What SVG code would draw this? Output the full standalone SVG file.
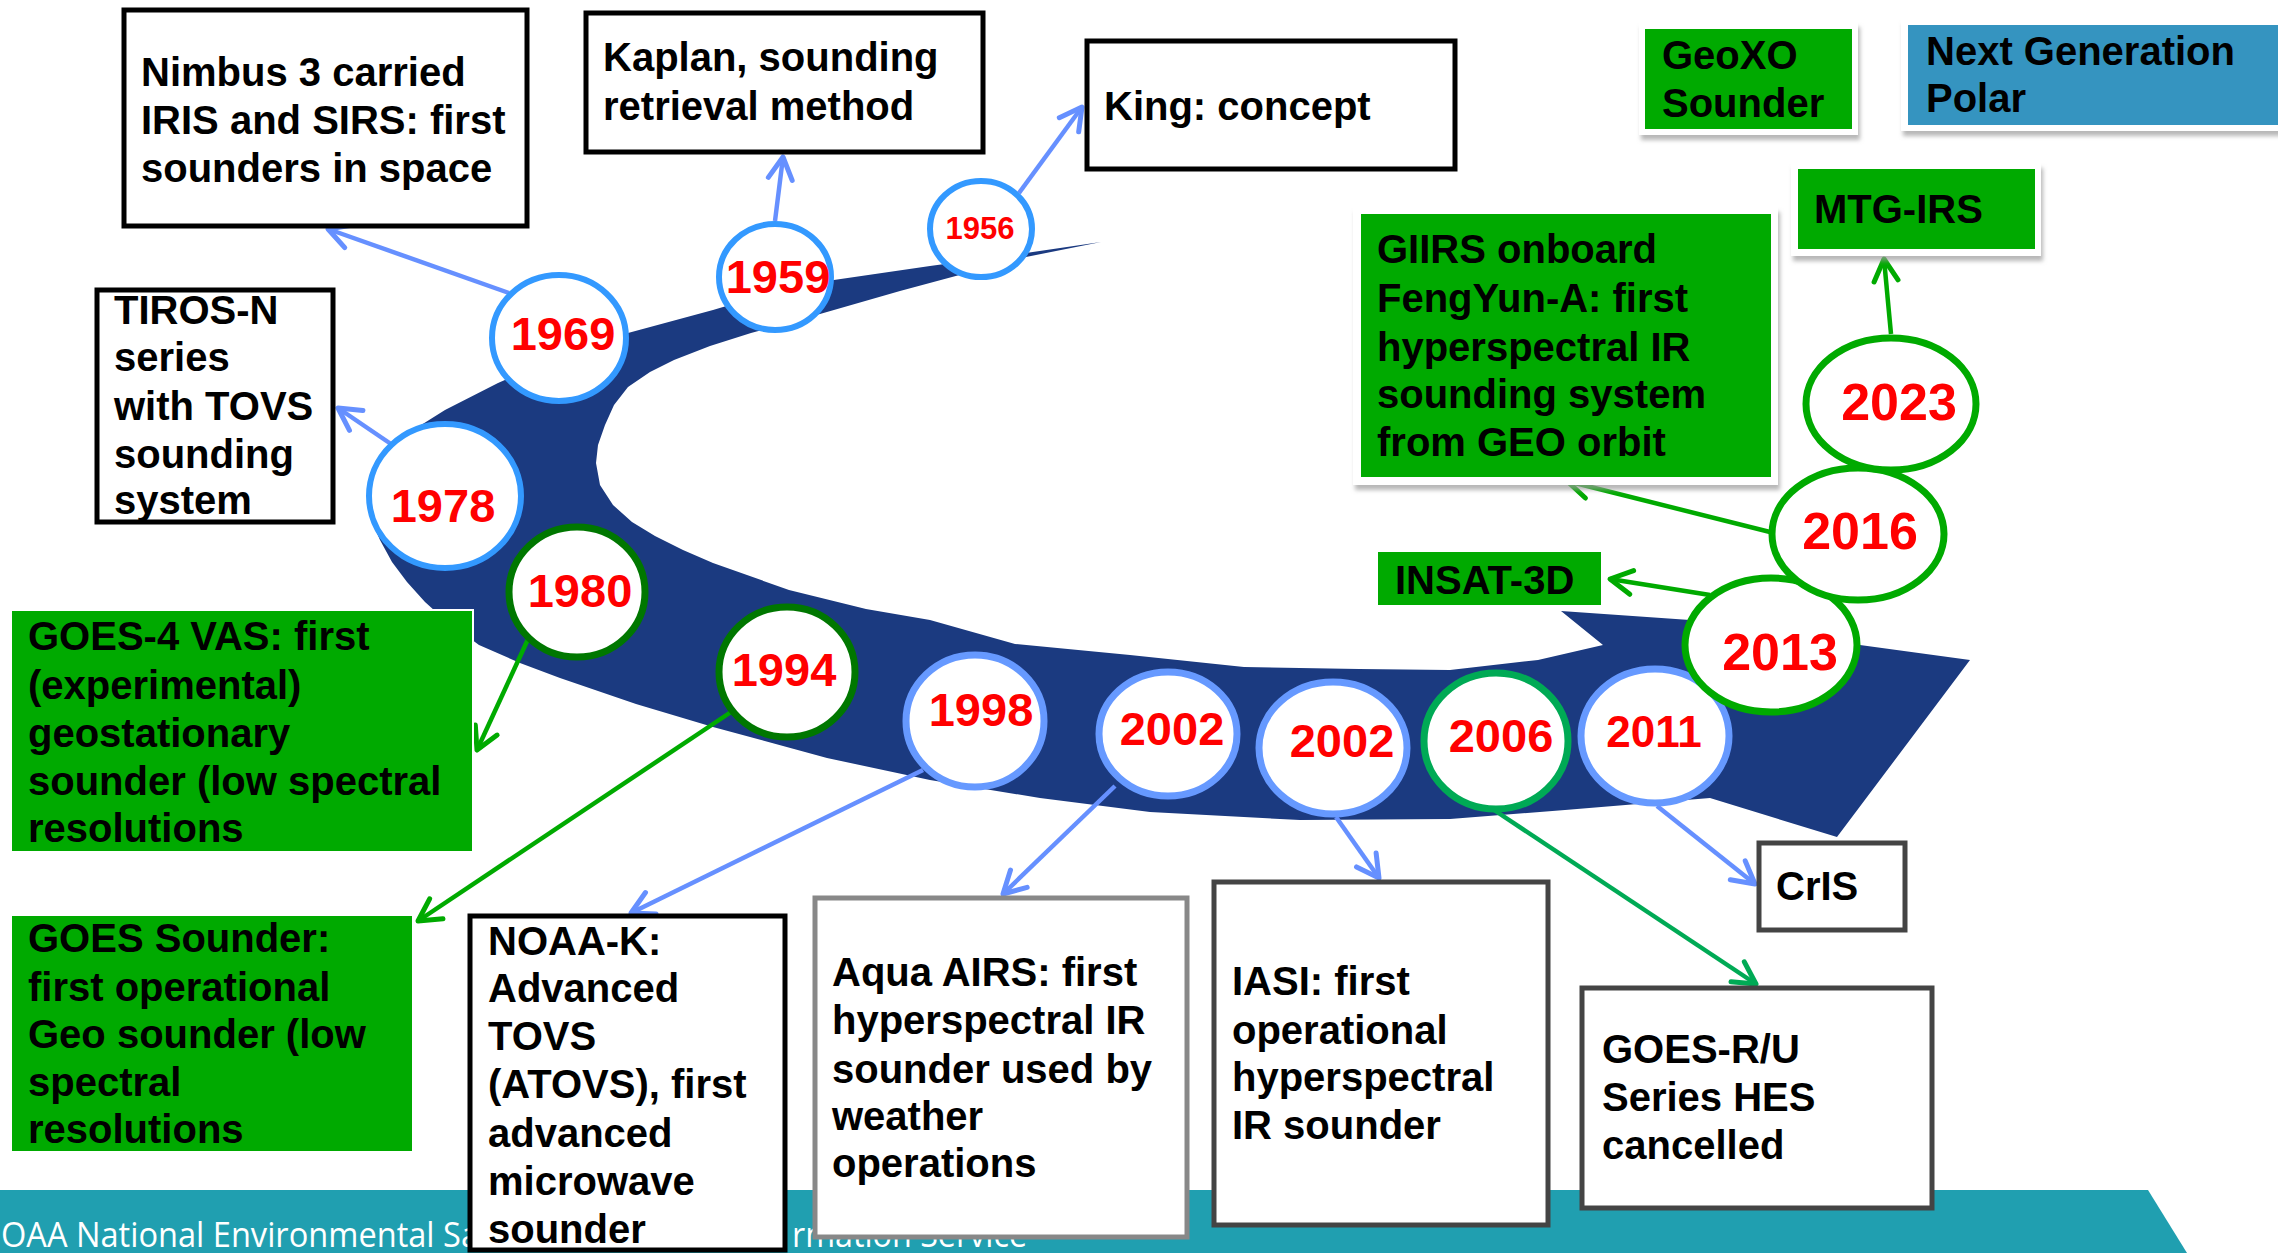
<svg xmlns="http://www.w3.org/2000/svg" width="2278" height="1253" viewBox="0 0 2278 1253">
<style>
.t{font-family:"Liberation Sans",Arial,sans-serif;font-weight:bold;font-size:40px;fill:#000}
.y{font-family:"Liberation Sans",Arial,sans-serif;font-weight:bold;font-size:47px;fill:#ff0000;text-anchor:middle}
.bx{fill:#fff;stroke:#000;stroke-width:5}
.bg{fill:#fff;stroke:#444;stroke-width:5}
.gr{fill:#00aa00}
.fr{fill:#fff;filter:url(#sh)}
.cb{fill:#fff;stroke:#3399ff;stroke-width:6}
.cc{fill:#fff;stroke:#6699ff;stroke-width:7}
.cd{fill:#fff;stroke:#007700;stroke-width:7}
.cg{fill:#fff;stroke:#00aa00;stroke-width:7}
.ct{fill:#fff;stroke:#00aa55;stroke-width:7}
.lb{stroke:#6690ff;stroke-width:4.5;fill:none;marker-end:url(#ab)}
.lg{stroke:#00aa00;stroke-width:4.5;fill:none;marker-end:url(#ag)}
.lt{stroke:#00aa55;stroke-width:4.5;fill:none;marker-end:url(#at)}
.ft{font-family:"Open Sans",sans-serif;font-size:34px;fill:#fff}
</style>
<defs>
<filter id="sh" x="-10%" y="-10%" width="120%" height="130%"><feDropShadow dx="2" dy="5" stdDeviation="2" flood-color="#999" flood-opacity="0.7"/></filter>
<marker id="ab" markerUnits="userSpaceOnUse" markerWidth="40" markerHeight="40" viewBox="-30 -20 40 40" refX="0" refY="0" orient="auto" overflow="visible"><path d="M-22,-12 L0,0 L-22,12" fill="none" stroke="#6690ff" stroke-width="5" stroke-linecap="round" stroke-linejoin="round"/></marker>
<marker id="ag" markerUnits="userSpaceOnUse" markerWidth="40" markerHeight="40" viewBox="-30 -20 40 40" refX="0" refY="0" orient="auto" overflow="visible"><path d="M-22,-12 L0,0 L-22,12" fill="none" stroke="#00aa00" stroke-width="5" stroke-linecap="round" stroke-linejoin="round"/></marker>
<marker id="at" markerUnits="userSpaceOnUse" markerWidth="40" markerHeight="40" viewBox="-30 -20 40 40" refX="0" refY="0" orient="auto" overflow="visible"><path d="M-22,-12 L0,0 L-22,12" fill="none" stroke="#00aa55" stroke-width="5" stroke-linecap="round" stroke-linejoin="round"/></marker>
</defs>
<rect width="2278" height="1253" fill="#fff"/>
<g id="swoosh">
<path fill="#1b3a80" d="M1101,242 L1026,253 L930,266 L827,281 L760,296 L713,310 L628,333 L560,356 L498,383 L445,410 L410,432 L385,455 L370,480 L368,505 L372,522 L380,540 L392,562 L407,582 L425,602 L445,620 L479,645 L520,663 L560,678 L636,704 L713,727 L827,758 L930,780 L1040,798 L1150,812 L1300,820 L1450,819 L1565,810 L1710,798 L1837,837 L1970,660 L1860,645 L1690,620 L1561,611 L1603,645 L1538,660 L1450,670 L1359,669 L1244,667 L1130,655 L1015,644 L930,620 L866,609 L789,590 L713,563 L683,550 L655,536 L632,522 L613,505 L600,485 L596,463 L598,445 L605,425 L614,405 L628,387 L650,372 L674,360 L710,346 L751,333 L820,314 L900,291 L1026,257 Z"/>
</g>
<g id="footer">
<polygon points="0,1190 2148,1190 2187,1253 0,1253" fill="#209fb0"/>
<text class="ft" x="1" y="1247" textLength="478" lengthAdjust="spacingAndGlyphs">OAA National Environmental Sa</text>
<text class="ft" x="792" y="1247" textLength="235" lengthAdjust="spacingAndGlyphs">rmation Service</text>
</g>
<g id="connectors">
<line class="lb" x1="509" y1="293" x2="328" y2="229"/>
<line class="lb" x1="775" y1="221" x2="783" y2="157"/>
<line class="lb" x1="1019" y1="193" x2="1082" y2="107"/>
<line class="lb" x1="391" y1="444" x2="338" y2="408"/>
<line class="lg" x1="529" y1="637" x2="477" y2="750"/>
<line class="lg" x1="734" y1="710" x2="418" y2="921"/>
<line class="lb" x1="923" y1="770" x2="631" y2="913"/>
<line class="lb" x1="1115" y1="786" x2="1003" y2="894"/>
<line class="lb" x1="1336" y1="817" x2="1379" y2="878"/>
<line class="lt" x1="1494" y1="810" x2="1756" y2="984"/>
<line class="lb" x1="1657" y1="806" x2="1755" y2="884"/>
<line class="lg" x1="1710" y1="595" x2="1610" y2="579"/>
<line class="lg" x1="1770" y1="532" x2="1567" y2="481"/>
<line class="lg" x1="1891" y1="334" x2="1884" y2="259"/>
</g>
<g id="n-nimbus"><rect class="bx" x="124" y="10" width="403" height="216"/>
<text class="t" x="141" y="86">Nimbus 3 carried</text><text class="t" x="141" y="134">IRIS and SIRS: first</text><text class="t" x="141" y="182">sounders in space</text></g>
<g id="n-kaplan"><rect class="bx" x="586" y="13" width="397" height="139"/>
<text class="t" x="603" y="71">Kaplan, sounding</text><text class="t" x="603" y="120">retrieval method</text></g>
<g id="n-king"><rect class="bx" x="1087" y="41" width="368" height="128"/>
<text class="t" x="1104" y="120">King: concept</text></g>
<g id="n-tiros"><rect class="bx" x="97" y="290" width="236" height="232"/>
<text class="t" x="114" y="324">TIROS-N</text><text class="t" x="114" y="371">series</text><text class="t" x="114" y="420">with TOVS</text><text class="t" x="114" y="468">sounding</text><text class="t" x="114" y="514">system</text></g>
<g id="n-geoxo"><rect class="fr" x="1639" y="22" width="219" height="113"/><rect class="gr" x="1645" y="29" width="207" height="100"/>
<text class="t" x="1662" y="69">GeoXO</text><text class="t" x="1662" y="117">Sounder</text></g>
<g id="n-ngp"><rect class="fr" x="1901" y="19" width="390" height="112"/><rect fill="#3594c0" x="1908" y="25" width="370" height="100"/>
<text class="t" x="1926" y="65">Next Generation</text><text class="t" x="1926" y="112">Polar</text></g>
<g id="n-mtg"><rect class="fr" x="1791" y="163" width="250" height="93"/><rect class="gr" x="1798" y="169" width="237" height="80"/>
<text class="t" x="1814" y="223">MTG-IRS</text></g>
<g id="n-giirs"><rect class="fr" x="1353" y="207" width="425" height="278"/><rect class="gr" x="1361" y="214" width="410" height="263"/>
<text class="t" x="1377" y="263">GIIRS onboard</text><text class="t" x="1377" y="312">FengYun-A: first</text><text class="t" x="1377" y="361">hyperspectral IR</text><text class="t" x="1377" y="408">sounding system</text><text class="t" x="1377" y="456">from GEO orbit</text></g>
<g id="n-insat"><rect class="gr" x="1377" y="551" width="225" height="55" stroke="#fff" stroke-width="2"/>
<text class="t" x="1395" y="594">INSAT-3D</text></g>
<g id="n-goes4"><rect class="gr" x="11" y="610" width="462" height="242" stroke="#fff" stroke-width="2"/>
<text class="t" x="28" y="650">GOES-4 VAS: first</text><text class="t" x="28" y="699">(experimental)</text><text class="t" x="28" y="747">geostationary</text><text class="t" x="28" y="795">sounder (low spectral</text><text class="t" x="28" y="842">resolutions</text></g>
<g id="n-goessounder"><rect class="gr" x="11" y="915" width="402" height="237" stroke="#fff" stroke-width="2"/>
<text class="t" x="28" y="952">GOES Sounder:</text><text class="t" x="28" y="1001">first operational</text><text class="t" x="28" y="1048">Geo sounder (low</text><text class="t" x="28" y="1096">spectral</text><text class="t" x="28" y="1143">resolutions</text></g>
<g id="n-noaak"><rect class="bx" x="470" y="916" width="315" height="334"/>
<text class="t" x="488" y="955">NOAA-K:</text><text class="t" x="488" y="1002">Advanced</text><text class="t" x="488" y="1050">TOVS</text><text class="t" x="488" y="1098">(ATOVS), first</text><text class="t" x="488" y="1147">advanced</text><text class="t" x="488" y="1195">microwave</text><text class="t" x="488" y="1243">sounder</text></g>
<g id="n-aqua"><rect x="815" y="898" width="372" height="339" fill="#fff" stroke="#888" stroke-width="5"/>
<text class="t" x="832" y="986">Aqua AIRS: first</text><text class="t" x="832" y="1034">hyperspectral IR</text><text class="t" x="832" y="1083">sounder used by</text><text class="t" x="832" y="1130">weather</text><text class="t" x="832" y="1177">operations</text></g>
<g id="n-iasi"><rect class="bg" x="1214" y="882" width="334" height="343"/>
<text class="t" x="1232" y="995">IASI: first</text><text class="t" x="1232" y="1044">operational</text><text class="t" x="1232" y="1091">hyperspectral</text><text class="t" x="1232" y="1139">IR sounder</text></g>
<g id="n-goesr"><rect class="bg" x="1582" y="988" width="350" height="220"/>
<text class="t" x="1602" y="1063">GOES-R/U</text><text class="t" x="1602" y="1111">Series HES</text><text class="t" x="1602" y="1159">cancelled</text></g>
<g id="n-cris"><rect class="bg" x="1759" y="843" width="146" height="87"/>
<text class="t" x="1776" y="900">CrIS</text></g>
<g id="y1956"><ellipse class="cb" cx="981" cy="229" rx="51" ry="48"/><text class="y" x="980" y="239" style="font-size:31px">1956</text></g>
<g id="y1959"><ellipse class="cb" cx="775" cy="277" rx="56" ry="53"/><text class="y" x="778" y="293">1959</text></g>
<g id="y1969"><ellipse class="cb" cx="559" cy="338" rx="67" ry="63"/><text class="y" x="563" y="350">1969</text></g>
<g id="y1978"><ellipse class="cb" cx="445" cy="496" rx="76" ry="72"/><text class="y" x="443" y="522">1978</text></g>
<g id="y1980"><ellipse class="cd" cx="577" cy="592" rx="68" ry="65"/><text class="y" x="580" y="607">1980</text></g>
<g id="y1994"><ellipse class="cd" cx="787" cy="672" rx="68" ry="65"/><text class="y" x="784" y="686">1994</text></g>
<g id="y1998"><ellipse class="cc" cx="975" cy="721" rx="69" ry="66"/><text class="y" x="981" y="726">1998</text></g>
<g id="y2002a"><ellipse class="cc" cx="1168" cy="734" rx="69" ry="62"/><text class="y" x="1172" y="745">2002</text></g>
<g id="y2002b"><ellipse class="cc" cx="1333" cy="748" rx="74" ry="66"/><text class="y" x="1342" y="757">2002</text></g>
<g id="y2006"><ellipse class="ct" cx="1496" cy="741" rx="72" ry="68"/><text class="y" x="1501" y="752">2006</text></g>
<g id="y2011"><ellipse class="cc" cx="1655" cy="736" rx="74" ry="67"/><text class="y" x="1654" y="747" style="font-size:44px">2011</text></g>
<g id="y2013"><ellipse class="cg" cx="1771" cy="645" rx="86" ry="67"/><text class="y" x="1780" y="670" style="font-size:52px">2013</text></g>
<g id="y2016"><ellipse class="cg" cx="1858" cy="534" rx="86" ry="66"/><text class="y" x="1860" y="549" style="font-size:52px">2016</text></g>
<g id="y2023"><ellipse class="cg" cx="1891" cy="404" rx="85" ry="66"/><text class="y" x="1899" y="420" style="font-size:52px">2023</text></g>
</svg>
